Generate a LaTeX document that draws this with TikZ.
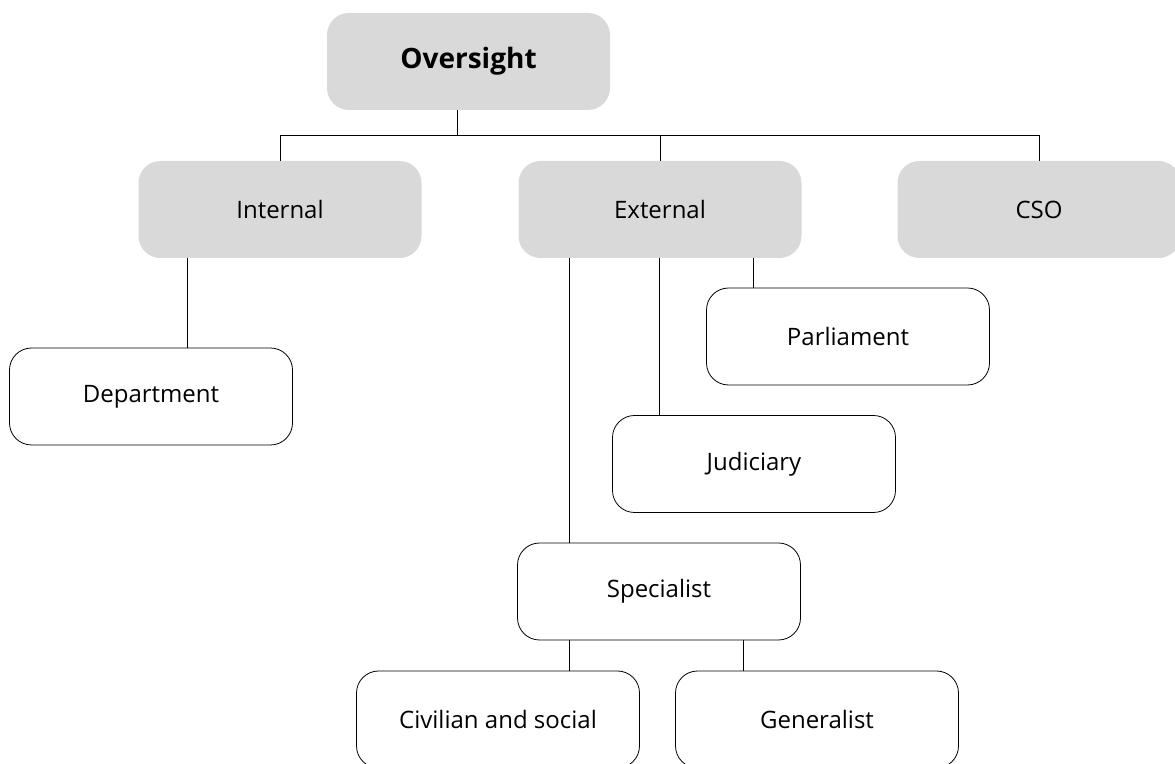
\documentclass[tikz,border=0pt]{standalone}
\usepackage{fontspec}
\setmainfont{Open Sans}
\usepackage{xcolor}
\usetikzlibrary{positioning,calc}

\definecolor{boxgray}{HTML}{D9D9D9}

\begin{document}
\begin{tikzpicture}[x=1pt,y=1pt,
    base/.style={rounded corners=22pt, minimum width=283pt, minimum height=97pt,
        inner sep=0pt, font=\fontsize{24}{28}\selectfont},
    topbox/.style={base, fill=boxgray},
    subbox/.style={base, draw, line width=0.8pt, fill=white},
    link/.style={line width=0.8pt}]
    \clip (0,0) rectangle (1175,763);

    % Top levels
    \node[topbox, font=\fontsize{28}{32}\selectfont\bfseries] (over) at (468.5,701.5) {Oversight};
    \node[topbox] (int) at (280,553.5) {Internal};
    \node[topbox] (ext) at (660,553.5) {External};
    \node[topbox] (cso) at (1039,553.5) {CSO};

    % Branches
    \node[subbox] (dept) at (151,366.5) {Department};
    \node[subbox] (parl) at (848,426.5) {Parliament};
    \node[subbox] (judi) at (754,299) {Judiciary};
    \node[subbox] (spec) at (659,171.5) {Specialist};
    \node[subbox] (civ) at (498,43.5) {Civilian and social};
    \node[subbox] (gen) at (817,43.5) {Generalist};

    % Connectors
    \coordinate (bus) at (0,628);
    \draw[link] ([xshift=-11.5pt]over.south) -- ([xshift=-11.5pt]over.south |- bus);
    \draw[link] (int.north |- bus) -- (cso.north |- bus);
    \foreach \n in {int,ext,cso}
        \draw[link] (\n.north) -- (\n.north |- bus);

    \draw[link] ([xshift=-93pt]int.south) -- ([xshift=-93pt]int.south |- dept.north);
    \draw[link] ([xshift=-91pt]ext.south) -- ([xshift=-91pt]ext.south |- spec.north);
    \draw[link] ([xshift=-1pt]ext.south) -- ([xshift=-1pt]ext.south |- judi.north);
    \draw[link] ([xshift=93pt]ext.south) -- ([xshift=93pt]ext.south |- parl.north);
    \draw[link] ([xshift=-90pt]spec.south) -- ([xshift=-90pt]spec.south |- civ.north);
    \draw[link] ([xshift=84pt]spec.south) -- ([xshift=84pt]spec.south |- gen.north);
\end{tikzpicture}
\end{document}
